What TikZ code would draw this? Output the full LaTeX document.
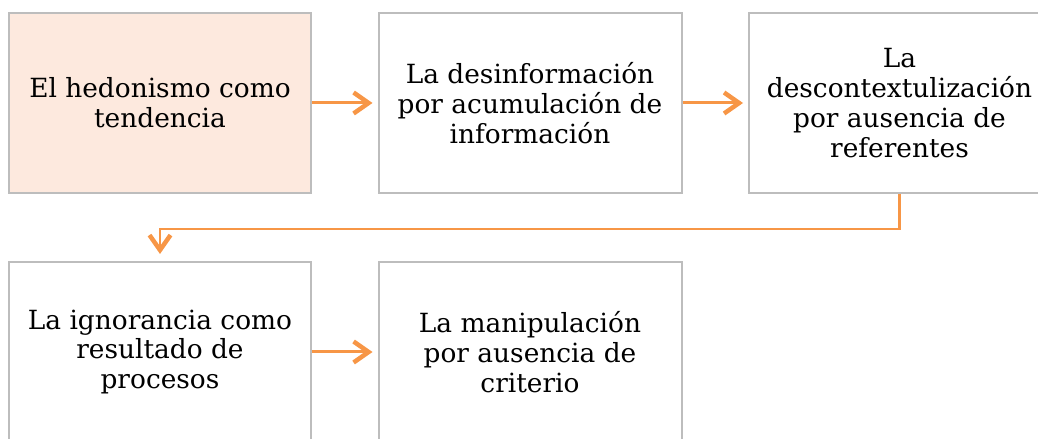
\documentclass[tikz,border=0pt]{standalone}
\usepackage{fontspec}
\setmainfont{DejaVu Serif}
\usetikzlibrary{arrows.meta}
\definecolor{boxgray}{HTML}{BDBDBD}
\definecolor{peach}{HTML}{FDE9DE}
\definecolor{arroworange}{HTML}{F79646}
\begin{document}
\begin{tikzpicture}[x=1bp,y=-1bp,
  stepbox/.style={draw=boxgray,line width=2bp,minimum width=301bp,minimum height=180bp,
    align=center,font=\fontsize{26.5}{30}\selectfont,inner sep=0pt},
  conn/.style={draw=arroworange,line width=3bp,
    -{Straight Barb[length=15bp,width=21bp,line width=4.5bp]}}]
\useasboundingbox (0,0) rectangle (1038,439);
\node[stepbox,fill=peach] (b1) at (160,103) {El hedonismo como\\tendencia};
\node[stepbox,minimum width=303bp] (b2) at (530,103) {La desinformación\\por acumulación de\\información};
\node[stepbox] (b3) at (899.5,103) {La\\descontextulización\\por ausencia de\\referentes};
\node[stepbox] (b4) at (160,352) {La ignorancia como\\resultado de\\procesos};
\node[stepbox,minimum width=303bp] (b5) at (530,352) {La manipulación\\por ausencia de\\criterio};
\draw[conn,shorten >=5bp] (b1.east) -- (b2.west);
\draw[conn,shorten >=5bp] (b2.east) -- (b3.west);
\draw[conn,shorten >=5bp] (b4.east) -- (b5.west);
\draw[conn,line width=2.5bp,shorten >=7bp] (b3.south) -- ++(0,35) -| (b4.north);
\end{tikzpicture}
\end{document}
